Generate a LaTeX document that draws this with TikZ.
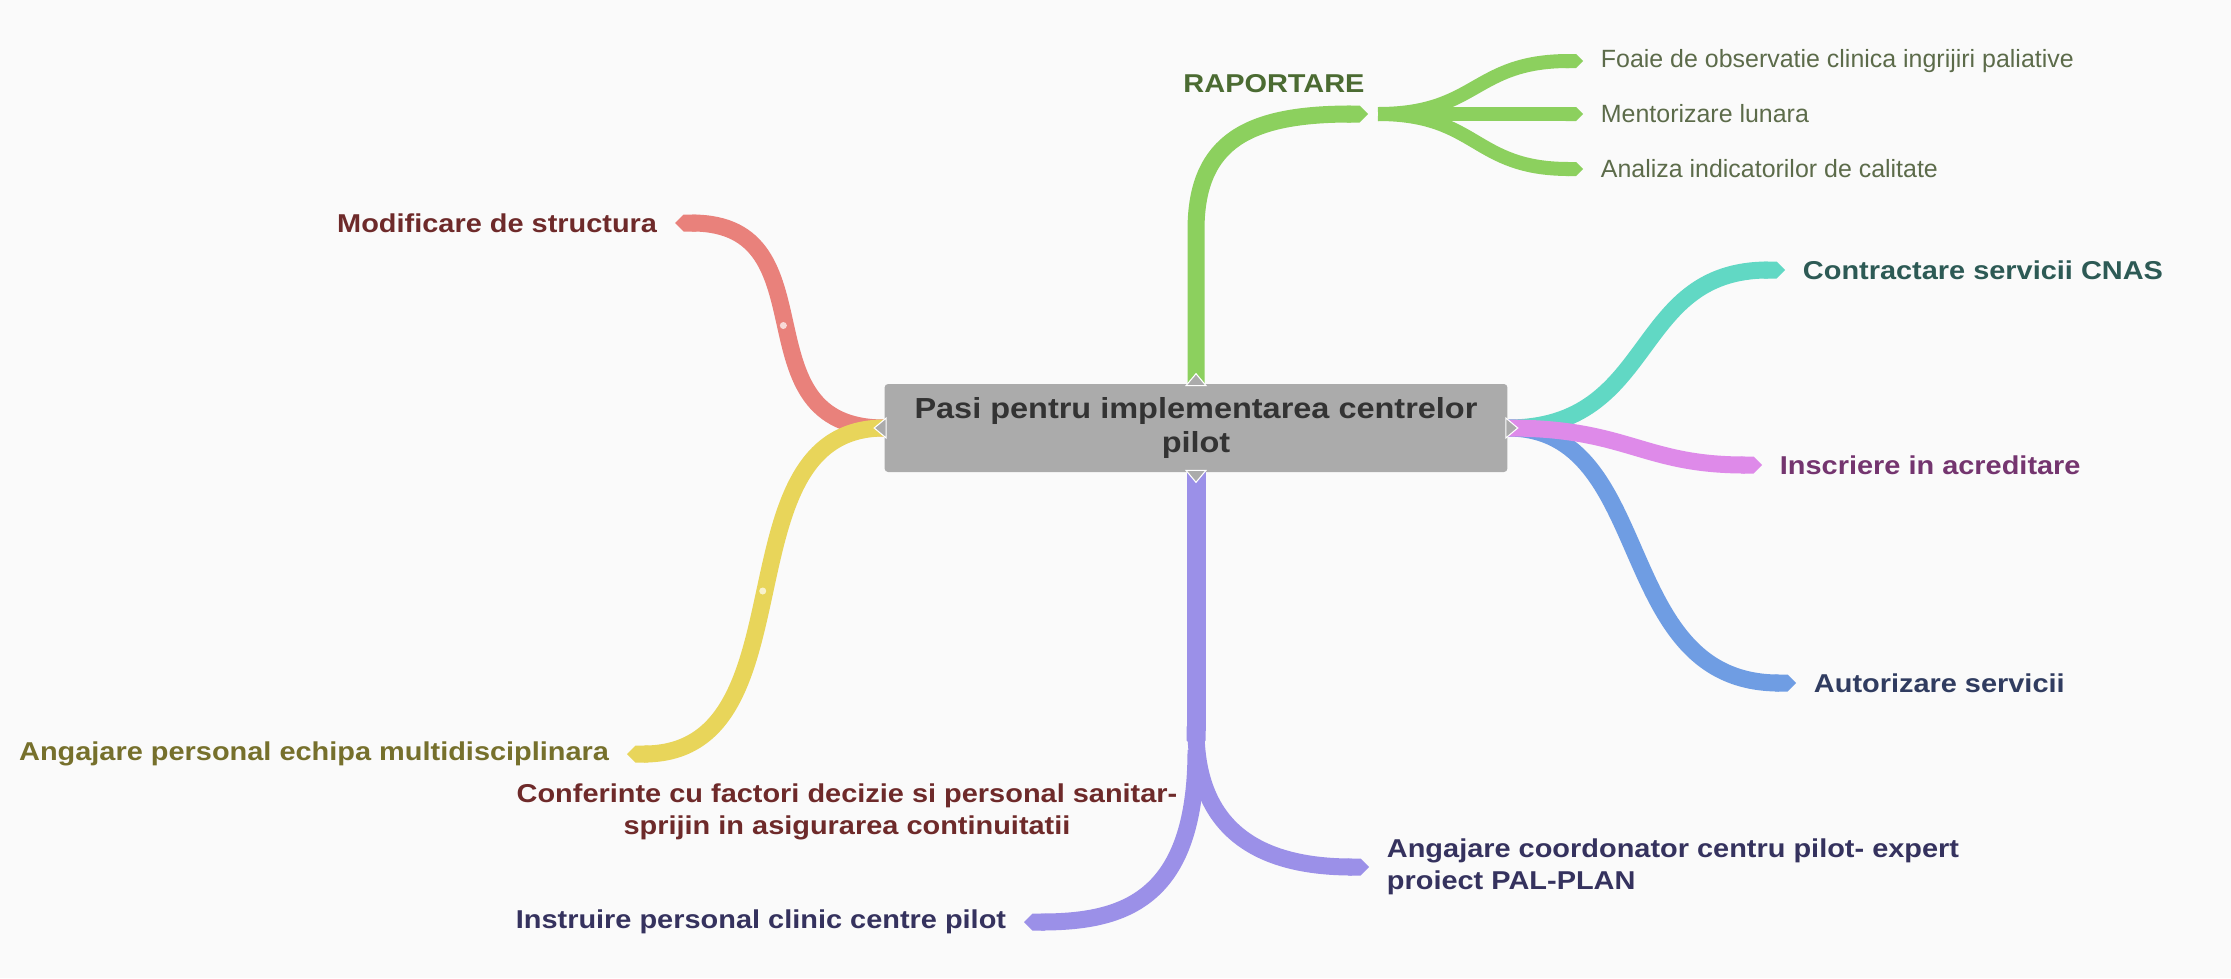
\documentclass[tikz,border=0pt]{standalone}
\usepackage{fontspec}
\setmainfont{Liberation Sans}[FakeStretch=1.12]
\newfontfamily\leaffont{Liberation Sans}
\usetikzlibrary{arrows.meta, positioning, calc}
\definecolor{bggray}{HTML}{FAFAFA}
\definecolor{hubgray}{HTML}{ABABAB}
\definecolor{hubtext}{HTML}{333333}
\definecolor{raportgreen}{HTML}{8CD05E}
\definecolor{contractteal}{HTML}{61D8C4}
\definecolor{inscrpink}{HTML}{DE8AE9}
\definecolor{autorblue}{HTML}{6F9DE3}
\definecolor{modifred}{HTML}{E9817B}
\definecolor{angajyellow}{HTML}{E8D55A}
\definecolor{instrpurple}{HTML}{9B90E8}
\definecolor{leaftext}{HTML}{5C6B4A}
\definecolor{raporttext}{HTML}{4B6B32}
\definecolor{contracttext}{HTML}{2D5A55}
\definecolor{inscrtext}{HTML}{74356F}
\definecolor{autortext}{HTML}{303C60}
\definecolor{modiftext}{HTML}{6E2A2A}
\definecolor{angajtext}{HTML}{76702C}
\definecolor{instrtext}{HTML}{35325E}

\begin{document}
\begin{tikzpicture}[
    x=0.02cm, y=-0.02cm,
    hub/.style={rectangle, fill=hubgray, rounded corners=2pt, minimum width=12.46cm, minimum height=1.76cm, align=center, text=hubtext, font=\fontsize{16.5}{19}\selectfont\bfseries},
    topic/.style={inner xsep=10pt, inner ysep=2pt, font=\fontsize{14.7}{18.5}\selectfont\bfseries},
    subtopic/.style={inner xsep=10pt, inner ysep=2pt, font=\leaffont\fontsize{14.2}{17}\selectfont, text=leaftext},
    branch/.style={line width=0.34cm, -{Triangle Cap}},
    twig/.style={line width=0.28cm, -{Triangle Cap}},
    notch/.style={fill=hubgray, draw=white, line width=0.6pt},
    knot/.style={fill=white, opacity=0.7}
]

% Canvas
\fill[bggray] (0,0) rectangle (2231,978);
\useasboundingbox (0,0) rectangle (2231,978);

% Central topic
\node[hub] (hub) at (1196,428) {Pasi pentru implementarea centrelor\\pilot};

% Left topics
\node[topic, anchor=east, text=modiftext] (modif) at (675,223) {Modificare de structura};
\node[topic, anchor=east, text=angajtext] (angaj) at (627,754) {Angajare personal echipa multidisciplinara};

% Right topics
\node[topic, anchor=west, text=contracttext] (cnas) at (1785,270) {Contractare servicii CNAS};
\node[topic, anchor=west, text=inscrtext] (inscr) at (1762,465) {Inscriere in acreditare};
\node[topic, anchor=west, text=autortext] (autor) at (1796,683) {Autorizare servicii};

% Raportare and its leaves
\coordinate (rap) at (1368,114);
\coordinate (fan) at (1378,114);
\node[topic, text=raporttext] (raport) at (1274,84) {RAPORTARE};
\node[subtopic, anchor=west] (foaie) at (1583,61) {Foaie de observatie clinica ingrijiri paliative};
\node[subtopic, anchor=west] (mentor) at (1583,114) {Mentorizare lunara};
\node[subtopic, anchor=west] (analiza) at (1583,169) {Analiza indicatorilor de calitate};

% Bottom topics
\coordinate (split) at (1196,750);
\node[topic, anchor=east, text=instrtext] (instr) at (1024,922) {Instruire personal clinic centre pilot};
\node[topic, anchor=west, align=left, text=instrtext] (coord) at (1369,867) {Angajare coordonator centru pilot- expert\\proiect PAL-PLAN};
\node[topic, align=center, text=modiftext] (conf) at (847,812) {Conferinte cu factori decizie si personal sanitar-\\sprijin in asigurarea continuitatii};

% Branches
\draw[branch, modifred] (hub.west) .. controls +(-150,0) and +(160,0) .. coordinate[pos=.5] (mk) (modif.east);
\draw[branch, angajyellow] (hub.west) .. controls +(-169,0) and +(188,0) .. coordinate[pos=.5] (ak) (angaj.east);
\draw[branch, contractteal] (hub.east) .. controls +(150,0) and +(-155,0) .. (cnas.west);
\draw[branch, autorblue] (hub.east) .. controls +(150,0) and +(-186,0) .. (autor.west);
\draw[branch, inscrpink] (hub.east) .. controls +(120,0) and +(-120,0) .. (inscr.west);
\draw[branch, raportgreen] (hub.north) -- (1196,230) .. controls (1196,140) and (1250,114) .. (rap);
\draw[twig, raportgreen] (fan) .. controls +(100,0) and +(-110,0) .. (foaie.west);
\draw[twig, raportgreen] (fan) -- (mentor.west);
\draw[twig, raportgreen] (fan) .. controls +(100,0) and +(-110,0) .. (analiza.west);
\draw[branch, instrpurple, line width=0.38cm] (hub.south) -- (split);
\draw[branch, instrpurple] (split) .. controls +(0,150) and +(100,0) .. (instr.east);
\draw[branch, instrpurple] ($(split)+(0,-20)$) .. controls +(0,100) and +(-110,0) .. (coord.west);

% Knots
\fill[knot] (mk) circle (0.07cm);
\fill[knot] (ak) circle (0.07cm);

% Notches on the central topic
\fill[notch] ($(hub.north)+(-10,2)$) -- ($(hub.north)+(0,-10)$) -- ($(hub.north)+(10,2)$) -- cycle;
\fill[notch] ($(hub.south)+(-10,-2)$) -- ($(hub.south)+(0,10)$) -- ($(hub.south)+(10,-2)$) -- cycle;
\fill[notch] ($(hub.west)+(2,-10)$) -- ($(hub.west)+(-10,0)$) -- ($(hub.west)+(2,10)$) -- cycle;
\fill[notch] ($(hub.east)+(-2,-10)$) -- ($(hub.east)+(10,0)$) -- ($(hub.east)+(-2,10)$) -- cycle;
\end{tikzpicture}
\end{document}
